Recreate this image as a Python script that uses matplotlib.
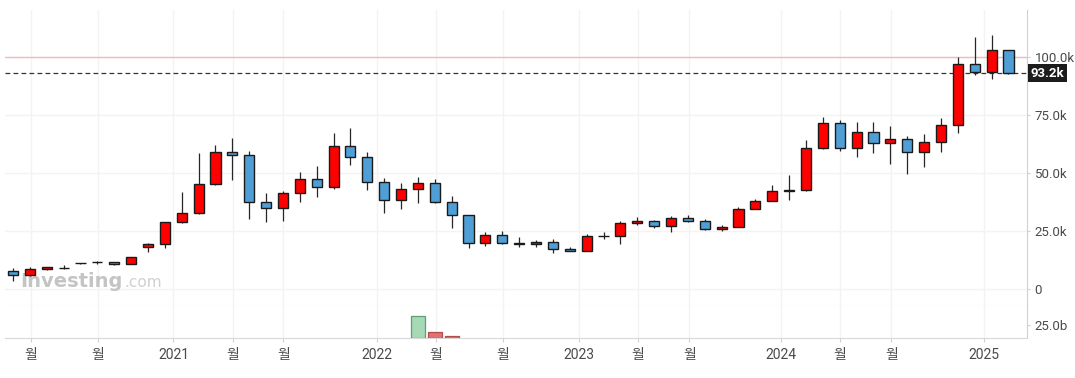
import matplotlib
matplotlib.use("Agg")
import matplotlib.pyplot as plt
import numpy as np

plt.rcParams['font.family'] = ['Roboto', 'Noto Sans CJK KR', 'DejaVu Sans']

# ---------------- data (prices in thousands USD, volume in billions) ----------------
months = ["2020-03", "2020-04", "2020-05", "2020-06", "2020-07", "2020-08", "2020-09", "2020-10",
          "2020-11", "2020-12", "2021-01", "2021-02", "2021-03", "2021-04", "2021-05", "2021-06",
          "2021-07", "2021-08", "2021-09", "2021-10", "2021-11", "2021-12", "2022-01", "2022-02",
          "2022-03", "2022-04", "2022-05", "2022-06", "2022-07", "2022-08", "2022-09", "2022-10",
          "2022-11", "2022-12", "2023-01", "2023-02", "2023-03", "2023-04", "2023-05", "2023-06",
          "2023-07", "2023-08", "2023-09", "2023-10", "2023-11", "2023-12", "2024-01", "2024-02",
          "2024-03", "2024-04", "2024-05", "2024-06", "2024-07", "2024-08", "2024-09", "2024-10",
          "2024-11", "2024-12", "2025-01", "2025-02"]
opens = [7.9, 5.9, 8.5, 9.1, 11.05, 11.5, 11.6, 10.7, 18.0, 19.3,
         28.7, 33.0, 45.1, 59.0, 57.7, 37.4, 34.8, 41.3, 47.3, 43.9,
         61.7, 56.8, 46.0, 38.3, 43.0, 45.6, 37.4, 31.8, 19.7, 23.2,
         19.8, 19.4, 20.4, 17.1, 16.5, 22.8, 22.7, 28.4, 29.3, 27.1,
         30.6, 29.3, 25.9, 26.9, 34.5, 38.0, 42.5, 42.6, 61.0, 71.5,
         60.7, 67.6, 62.9, 64.6, 59.0, 63.3, 70.7, 97.0, 93.8, 103.0]
highs = [9.1, 9.4, 9.7, 10.5, 11.2, 12.2, 11.8, 13.9, 19.7, 28.9,
         41.8, 58.6, 62.1, 65.2, 59.6, 41.4, 42.3, 50.5, 53.1, 67.3,
         69.5, 59.1, 47.9, 45.7, 48.3, 47.5, 40.1, 32.0, 24.6, 25.0,
         22.4, 21.0, 21.6, 18.0, 23.8, 24.7, 29.3, 31.0, 29.6, 31.5,
         31.9, 30.3, 27.5, 35.5, 38.7, 44.9, 49.1, 64.3, 74.2, 72.8,
         72.1, 72.0, 70.3, 65.9, 66.9, 73.8, 100.0, 108.8, 109.8, 103.2]
lows = [3.6, 5.8, 8.3, 8.8, 11.0, 10.8, 10.2, 10.6, 16.0, 17.8,
        28.3, 32.3, 45.0, 47.2, 30.3, 29.0, 29.5, 37.7, 39.8, 43.3,
        53.7, 42.7, 32.9, 34.5, 37.1, 37.0, 26.5, 17.8, 18.7, 19.5,
        18.3, 18.3, 15.7, 16.3, 16.5, 21.4, 19.6, 27.5, 26.2, 24.7,
        29.0, 25.6, 25.2, 26.6, 34.4, 37.8, 38.5, 42.1, 60.6, 59.7,
        57.1, 58.8, 54.1, 49.8, 52.8, 59.3, 67.5, 92.2, 90.5, 92.8]
closes = [5.9, 8.5, 9.4, 8.9, 11.15, 11.6, 10.7, 13.8, 19.3, 28.7,
          33.0, 45.1, 59.0, 57.8, 37.4, 34.8, 41.3, 47.3, 43.9, 61.7,
          56.8, 46.0, 38.3, 43.0, 45.6, 37.4, 31.8, 19.7, 23.2, 19.7,
          19.4, 20.4, 17.1, 16.5, 22.8, 22.7, 28.4, 29.3, 27.1, 30.6,
          29.2, 25.9, 26.9, 34.5, 38.0, 42.3, 42.6, 61.0, 71.5, 60.7,
          67.6, 62.9, 64.6, 59.0, 63.3, 70.7, 97.0, 93.8, 103.0, 93.2]
volumes_b = [0] * 24 + [42.3, 11.5, 3.8] + [0] * 33

x_tick_pos = [1.05, 5.02, 9.51, 13.03, 16.03, 21.55, 25.07, 29.05, 33.53, 37.03,
              40.08, 45.51, 49.01, 52.06, 57.55]
x_tick_labels = ["월", "월", "2021", "월", "월", "2022", "월", "월", "2023", "월",
                 "월", "2024", "월", "월", "2025"]
y_ticks = [0, 25, 50, 75, 100]
y_tick_labels = ["0", "25.0k", "50.0k", "75.0k", "100.0k"]
vol_ticks = [25]
vol_tick_labels = ["25.0b"]
last_price = 93.2
ref_level = 100.0

# ---------------- styling ----------------
UP = "#ff0000"
DOWN = "#4f9fd6"
EDGE = "#1a1a1a"
GRID = "#f3f3f3"
AXIS = "#d0d0d0"
TXT = "#4a4a4a"

W, H = 1075, 378
fig = plt.figure(figsize=(W / 100, H / 100), dpi=100)
fig.patch.set_facecolor("white")

left_px, right_px = 5, 1027
main_top, main_bot = 10, 306
vol_bot = 338
ax = fig.add_axes([left_px / W, (H - main_bot) / H, (right_px - left_px) / W, (main_bot - main_top) / H])
axv = fig.add_axes([left_px / W, (H - vol_bot) / H, (right_px - left_px) / W, (vol_bot - main_bot) / H], sharex=ax)

x = np.arange(len(months))
o = np.array(opens); h = np.array(highs); l = np.array(lows); c = np.array(closes)
up = c >= o
colors = np.where(up, UP, DOWN)

# wicks
ax.vlines(x, l, h, color="#262626", linewidth=0.9, zorder=3)
# bodies
bottoms = np.minimum(o, c)
heights = np.abs(c - o)
ax.bar(x, heights, bottom=bottoms, width=0.6, color=colors, edgecolor=EDGE,
       linewidth=1.0, zorder=4)

# reference lines
ax.axhline(ref_level, color="#f7b8b8", linewidth=1.0, zorder=2)
ax.axhline(last_price, color="#333333", linewidth=0.9, linestyle=(0, (3.8, 2.6)), zorder=2)

ax.set_xlim(-0.474, 60.1)
ax.set_ylim(-7.34, 120.4)

ax.set_yticks(y_ticks)
ax.set_yticklabels(y_tick_labels)
ax.yaxis.tick_right()
ax.tick_params(axis="y", length=2.5, color=AXIS, pad=3, labelsize=9.5, labelcolor=TXT)
ax.tick_params(axis="x", length=0, labelbottom=False)
ax.set_xticks(x_tick_pos)
ax.grid(True, color=GRID, linewidth=1.0, zorder=0)
ax.set_axisbelow(True)
for s in ["top", "left"]:
    ax.spines[s].set_visible(False)
ax.spines["right"].set_color(AXIS)
ax.spines["bottom"].set_color("#cfcfcf")

# last price tag
ax.annotate(f"{last_price:.1f}k", xy=(1.0, last_price), xycoords=("axes fraction", "data"),
            xytext=(2.5, 0), textcoords="offset points", ha="left", va="center",
            fontsize=9.5, fontweight="bold", color="white",
            bbox=dict(boxstyle="square,pad=0.2", fc="#1c1c1c", ec="none"),
            annotation_clip=False, zorder=10)

# watermark
t1 = ax.text(0.0154, 0.065, "Investing", transform=ax.transAxes, fontsize=14,
             fontweight="bold", family="DejaVu Sans", color="#c4c4c4",
             ha="left", va="baseline", zorder=1)
fig.canvas.draw()
bb = t1.get_window_extent(renderer=fig.canvas.get_renderer())
x_end = ax.transAxes.inverted().transform((bb.x1, bb.y0))[0]
ax.text(x_end + 0.001, 0.065, ".com", transform=ax.transAxes, fontsize=11,
        family="DejaVu Sans", color="#d0d0d0", ha="left", va="baseline", zorder=1)

# volume
vol = np.array(volumes_b, dtype=float)
vcol = np.where(up, "#a7d9b6", "#e47070")
vedge = np.where(up, "#5e9f73", "#b44c4c")
mask = vol > 0
axv.bar(x[mask], vol[mask], width=0.82, color=vcol[mask], edgecolor=vedge[mask],
        linewidth=0.9, zorder=3)
axv.set_ylim(0, 61.5)
axv.set_yticks(vol_ticks)
axv.set_yticklabels(vol_tick_labels)
axv.yaxis.tick_right()
axv.tick_params(axis="y", length=2.5, color=AXIS, pad=3, labelsize=9.5, labelcolor=TXT)
axv.set_xticks(x_tick_pos)
axv.set_xticklabels(x_tick_labels)
axv.tick_params(axis="x", length=3, color=AXIS, pad=4, labelsize=10, labelcolor=TXT)
axv.grid(True, axis="x", color=GRID, linewidth=1.0, zorder=0)
axv.set_axisbelow(True)
for s in ["top", "left"]:
    axv.spines[s].set_visible(False)
axv.spines["right"].set_color(AXIS)
axv.spines["bottom"].set_color("#d8d8d8")

fig.savefig("out.png", dpi=100, facecolor="white")
